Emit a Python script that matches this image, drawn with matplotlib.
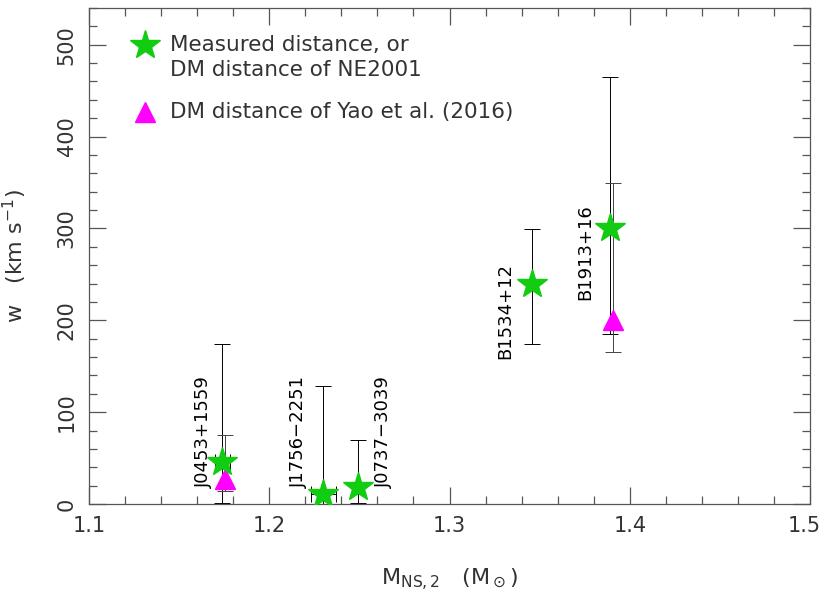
import matplotlib
matplotlib.use("Agg")
import matplotlib.pyplot as plt
import matplotlib.transforms as mtransforms
from matplotlib.ticker import MultipleLocator

# ─── data ────────────────────────────────────────────────────────────────────
names = ["J0453+1559", "J1756\u22122251", "J0737\u22123039", "B1534+12", "B1913+16"]

# measured distance / NE2001 (green stars)
star_m = [1.174, 1.230, 1.249, 1.3455, 1.389]
star_m_err = [0.004, 0.007, 0.0, 0.0, 0.0]
star_w = [46, 11, 19, 240, 300]
star_lo = [1, 0, 1, 174, 185]
star_hi = [174, 129, 70, 299, 465]

# Yao et al. (2016) DM distance (magenta triangles)
tri_m = [1.1755, 1.3905]
tri_w = [27, 200]
tri_lo = [14, 165]
tri_hi = [75, 350]

# label anchor (w value where the rotated name starts) and x offset
label_w = [17, 17, 17, 158, 222]
label_dx = [-0.010, -0.0135, 0.0145, -0.0145, -0.0135]

xticks = [1.1, 1.2, 1.3, 1.4, 1.5]

INK = "#333333"
GREEN = "#11cc11"
MAGENTA = "#ff00ff"

plt.rcParams["font.family"] = "DejaVu Sans"

fig = plt.figure(figsize=(8.22, 5.99), dpi=100)
ax = fig.add_axes([89 / 822, (599 - 504) / 599, (810 - 89) / 822, (504 - 8) / 599])

# error bars
for m, dm, w, lo, hi in zip(star_m, star_m_err, star_w, star_lo, star_hi):
    ax.errorbar(m, w, yerr=[[w - lo], [hi - w]], xerr=dm if dm else None,
                fmt="none", ecolor="black", elinewidth=0.7, capsize=6,
                capthick=0.7, zorder=2)
for m, w, lo, hi in zip(tri_m, tri_w, tri_lo, tri_hi):
    ax.errorbar(m, w, yerr=[[w - lo], [hi - w]], fmt="none", ecolor="#444444",
                elinewidth=0.7, capsize=6, capthick=0.7, zorder=2)

ax.plot(tri_m, tri_w, ls="none", marker="^", ms=15, color=MAGENTA,
        mec=MAGENTA, zorder=3)
ax.plot(star_m, star_w, ls="none", marker="*", ms=22, color=GREEN,
        mec=GREEN, zorder=4)

for name, m, lw, dx in zip(names, star_m, label_w, label_dx):
    ax.text(m + dx, lw, name, rotation=90, ha="center", va="bottom",
            fontsize=13, color="black")

# legend drawn by hand, PGPLOT style
ax.plot([1.131], [500], ls="none", marker="*", ms=22, color=GREEN, mec=GREEN,
        clip_on=False)
ax.text(1.145, 500, "Measured distance, or", fontsize=15.5, color=INK, va="center")
ax.text(1.145, 472, "DM distance of NE2001", fontsize=15.5, color=INK, va="center")
ax.plot([1.131], [427], ls="none", marker="^", ms=15, color=MAGENTA, mec=MAGENTA,
        clip_on=False)
ax.text(1.145, 427, "DM distance of Yao et al. (2016)", fontsize=15.5, color=INK,
        va="center")

ax.set_xlim(1.1, 1.5)
ax.set_ylim(0, 540)
ax.set_xticks(xticks)
ax.set_xticklabels([f"{t:.1f}" for t in xticks])
ax.xaxis.set_minor_locator(MultipleLocator(0.02))
ax.yaxis.set_major_locator(MultipleLocator(100))
ax.yaxis.set_minor_locator(MultipleLocator(20))
ax.tick_params(which="both", direction="in", top=True, right=True,
               color="#555555", labelcolor=INK, labelsize=15)
ax.tick_params(which="major", length=12, width=0.9, pad=9)
ax.tick_params(which="minor", length=6, width=0.9)
for lab in ax.get_yticklabels():
    lab.set_rotation(90)
    lab.set_va("center")
# keep the last x label inside the canvas
last = ax.get_xticklabels()[-1]
last.set_transform(last.get_transform() +
                   mtransforms.ScaledTranslation(-6 / 100, 0, fig.dpi_scale_trans))
for s in ax.spines.values():
    s.set_color("#555555")
    s.set_linewidth(0.9)

ax.set_xlabel(r"M$_{\rm NS,2}$   (M$_\odot$)", fontsize=16, color=INK, labelpad=22)
ax.set_ylabel(r"w   (km s$^{-1}$)", fontsize=16, color=INK, labelpad=20)

fig.savefig("out.png", dpi=100)
